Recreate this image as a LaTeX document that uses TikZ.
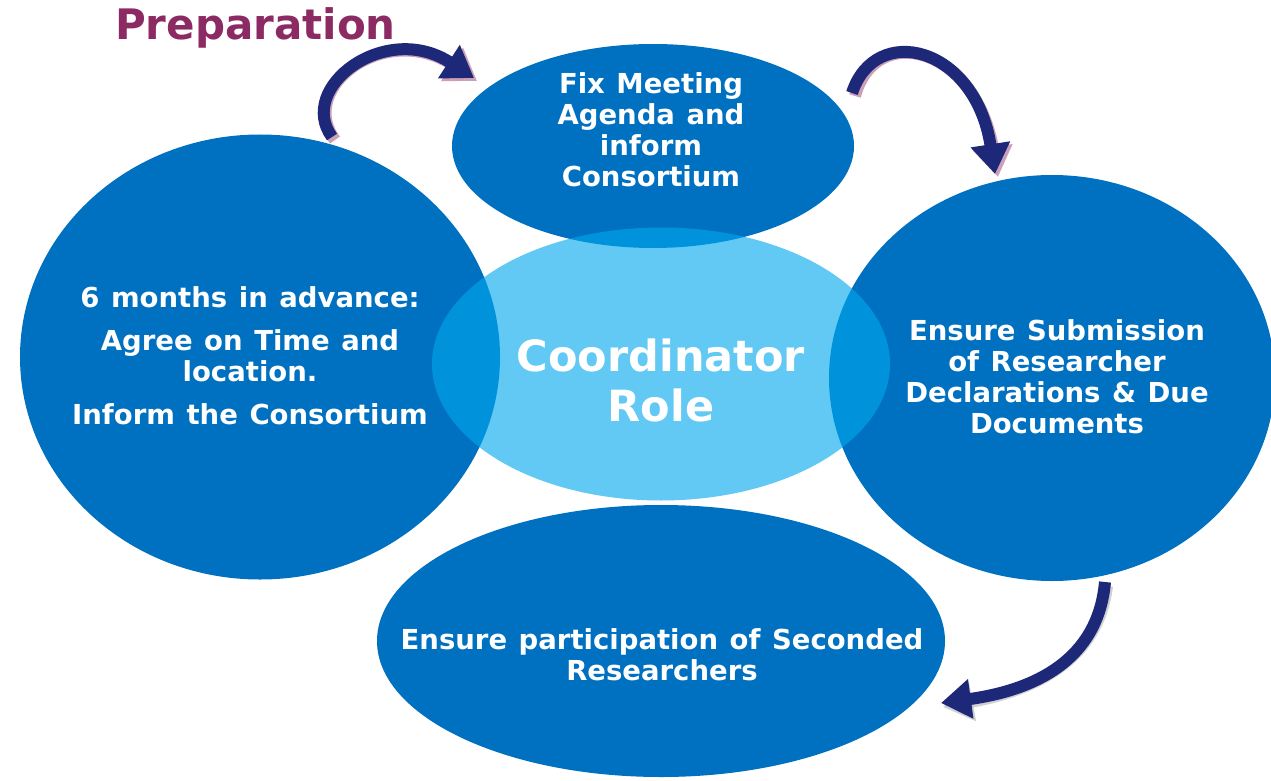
\documentclass[tikz,border=0pt]{standalone}
\usepackage{fontspec}
\setmainfont{DejaVu Sans}
\usetikzlibrary{shapes.geometric,arrows.meta}
\definecolor{darkb}{RGB}{0,112,192}
\definecolor{lightb}{RGB}{0,168,237}
\definecolor{navy}{RGB}{30,40,120}
\definecolor{prep}{RGB}{140,43,99}
\newcommand{\widesp}{\spaceskip=0.42em\relax}
\tikzset{
  bubble/.style={ellipse,fill=darkb,inner sep=0pt},
  btext/.style={text=white,align=center,inner sep=0pt,font=\bfseries\fontsize{27.5}{31}\selectfont\widesp},
  core/.style={ellipse,fill=lightb,fill opacity=0.62,inner sep=0pt},
  flow/.style={line width=12pt,navy,-{Triangle[length=30pt,width=38pt]}},
  shade/.style={line width=12pt,prep,opacity=0.45,-{Triangle[length=30pt,width=38pt]}},
  gshade/.style={line width=12pt,black!30,opacity=0.6,-{Triangle[length=30pt,width=38pt]}},
  title/.style={text=prep,font=\bfseries\fontsize{42}{44}\selectfont,anchor=west,inner sep=0pt}
}
\begin{document}
\begin{tikzpicture}[x=1pt,y=-1pt]
\useasboundingbox (0,0) rectangle (1271,781);
\fill[white] (0,0) rectangle (1271,781);
\node[bubble,minimum width=402pt,minimum height=204pt] (top) at (653,146) {};
\node[bubble,minimum width=480pt,minimum height=445pt] (left) at (260,357) {};
\node[bubble,minimum width=446pt,minimum height=406pt] (right) at (1052,378) {};
\node[bubble,minimum width=568pt,minimum height=272pt] (bottom) at (661,641) {};
\node[core,minimum width=458pt,minimum height=273pt] (center) at (661,364) {};
\node[text=white,align=center,inner sep=0pt,font=\bfseries\fontsize{43}{50}\selectfont] (coretext) at (661,380) {Coordinator\\Role};
\node[btext] (toptext) at (651,130) {Fix Meeting\\Agenda and\\inform\\Consortium};
\node[btext] (lefttext) at (250,356) {6 months in advance:\\[12pt]Agree on Time and\\location.\\[12pt]Inform the Consortium};
\node[btext] (righttext) at (1057,377) {Ensure Submission\\of Researcher\\Declarations \& Due\\Documents};
\node[btext] (bottomtext) at (662,655) {Ensure participation of Seconded\\Researchers};
\node[title] (prep) at (115,28) {Preparation};
\coordinate (a1s) at (332,137);
\coordinate (a1e) at (474,78);
\coordinate (a2s) at (852,93);
\coordinate (a2e) at (995,174);
\coordinate (a3s) at (1105,582);
\coordinate (a3e) at (941,703);
\draw[shade] ([shift={(3,3)}]a1s) .. controls (296,88) and (385,20) .. ([shift={(3,3)}]a1e);
\draw[flow] (a1s) .. controls (296,88) and (385,20) .. (a1e);
\draw[shade] ([shift={(3,3)}]a2s) .. controls (875,22) and (975,45) .. ([shift={(3,3)}]a2e);
\draw[flow] (a2s) .. controls (875,22) and (975,45) .. (a2e);
\draw[gshade] ([shift={(2,4)}]a3s) .. controls (1098,660) and (1035,690) .. ([shift={(2,4)}]a3e);
\draw[flow] (a3s) .. controls (1098,660) and (1035,690) .. (a3e);
\end{tikzpicture}
\end{document}
